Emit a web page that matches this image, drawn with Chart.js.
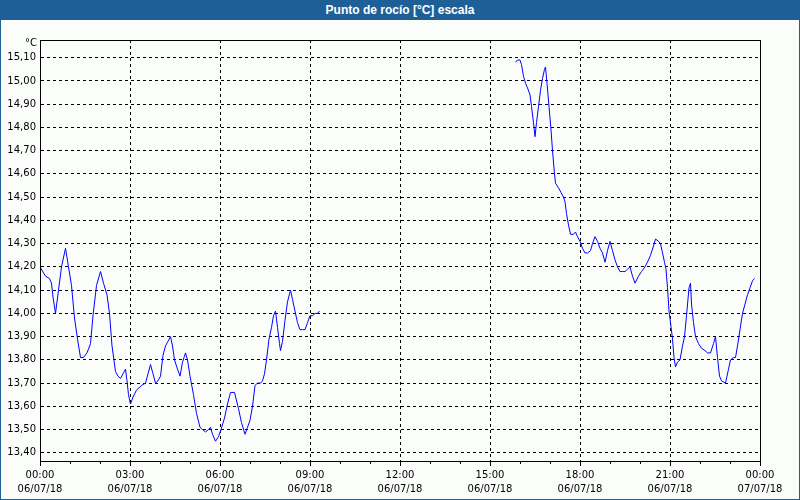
<!DOCTYPE html>
<html><head><meta charset="utf-8">
<script src="https://cdn.jsdelivr.net/npm/chart.js@4.4.1/dist/chart.umd.min.js"></script>
<style>
html,body{margin:0;padding:0;background:#fbfdfb;}
#wrap{position:relative;width:800px;height:500px;background:#fbfdfb;overflow:hidden;}
#c{position:absolute;left:0;top:0;}
#title{position:absolute;left:0;top:0;width:800px;height:20px;background:#1f5f97;color:#fff;font:bold 12px "Liberation Sans",Arial,sans-serif;text-align:center;line-height:20px;}
#unit{position:absolute;left:0;top:37px;width:37px;text-align:right;font:10px "DejaVu Sans",sans-serif;color:#000;}
#border{position:absolute;left:0;top:0;width:800px;height:500px;box-sizing:border-box;border:1px solid #1f5f97;pointer-events:none;}
</style></head>
<body>
<div id="wrap">
<canvas id="c" width="800" height="500"></canvas>
<div id="title">Punto de rocío [°C] escala</div>
<div id="unit">°C</div>
<div id="border"></div>
</div>
<script>
// Tick labels
const timeLabels = ['00:00','03:00','06:00','09:00','12:00','15:00','18:00','21:00','00:00'];
const dateLabels = ['06/07/18','06/07/18','06/07/18','06/07/18','06/07/18','06/07/18','06/07/18','06/07/18','07/07/18'];
const majorMinutes = [0,180,360,540,720,900,1080,1260,1440];
const yTicks = [13.4,13.5,13.6,13.7,13.8,13.9,14.0,14.1,14.2,14.3,14.4,14.5,14.6,14.7,14.8,14.9,15.0,15.1];

// Series: minutes since 06/07/18 00:00 and dew point (°C)
const times1 = [0,11,19,23,26,31,37,43,51,57,63,69,75,81,87,94,101,106,113,121,127,134,139,144,151,156,161,166,171,174,177,181,186,193,203,211,216,221,226,231,236,241,246,251,256,261,265,269,275,280,285,291,295,300,307,313,320,325,331,337,341,345,351,357,362,369,375,381,389,397,403,410,415,420,425,430,435,441,445,449,453,458,463,467,471,475,479,481,485,490,495,501,505,510,515,520,525,530,535,540,545,550,555,559];
const values1 = [14.20,14.16,14.15,14.13,14.07,14.00,14.10,14.20,14.28,14.20,14.12,13.98,13.89,13.81,13.81,13.83,13.87,13.99,14.12,14.18,14.13,14.08,14.00,13.86,13.75,13.73,13.72,13.74,13.76,13.71,13.65,13.61,13.64,13.67,13.69,13.70,13.74,13.78,13.74,13.70,13.71,13.73,13.82,13.86,13.88,13.90,13.86,13.80,13.76,13.73,13.79,13.83,13.80,13.73,13.65,13.57,13.51,13.50,13.49,13.50,13.51,13.48,13.45,13.47,13.50,13.55,13.61,13.66,13.66,13.59,13.53,13.48,13.51,13.54,13.60,13.69,13.70,13.70,13.71,13.74,13.80,13.89,13.94,13.99,14.01,13.94,13.87,13.84,13.88,13.97,14.05,14.10,14.06,14.01,13.96,13.93,13.93,13.93,13.96,13.99,13.99,14.00,14.00,14.01];
const times2 = [951,955,960,963,967,971,975,980,983,987,990,993,997,1001,1005,1009,1011,1014,1018,1022,1025,1029,1031,1037,1042,1047,1050,1053,1057,1061,1067,1071,1075,1080,1085,1090,1095,1101,1105,1110,1115,1120,1125,1130,1135,1140,1145,1150,1155,1160,1165,1170,1175,1180,1185,1190,1197,1203,1210,1217,1221,1227,1231,1237,1241,1245,1249,1252,1255,1258,1261,1265,1268,1271,1275,1280,1285,1289,1293,1298,1301,1303,1307,1311,1317,1323,1330,1335,1341,1347,1351,1355,1359,1363,1371,1377,1381,1387,1391,1395,1400,1405,1410,1415,1420,1425,1429];
const values2 = [15.08,15.09,15.09,15.07,15.02,14.99,14.97,14.94,14.89,14.82,14.76,14.82,14.89,14.96,15.01,15.05,15.06,14.99,14.89,14.79,14.70,14.60,14.56,14.54,14.52,14.50,14.48,14.43,14.38,14.34,14.34,14.35,14.33,14.31,14.28,14.26,14.26,14.27,14.30,14.33,14.31,14.28,14.26,14.22,14.27,14.31,14.27,14.23,14.20,14.18,14.18,14.18,14.19,14.20,14.16,14.13,14.16,14.18,14.20,14.23,14.25,14.29,14.32,14.31,14.30,14.26,14.22,14.19,14.11,14.01,13.96,13.89,13.81,13.77,13.79,13.80,13.86,13.90,13.99,14.11,14.13,14.04,13.96,13.90,13.87,13.85,13.84,13.83,13.83,13.87,13.90,13.81,13.73,13.71,13.70,13.76,13.80,13.81,13.81,13.86,13.93,14.00,14.04,14.08,14.11,14.14,14.15];

const points = times1.map((t,i)=>({x:t,y:values1[i]}))
  .concat([{x:700,y:null}])
  .concat(times2.map((t,i)=>({x:t,y:values2[i]})));

const frameAndMinor = {
  id:'frameAndMinor',
  afterDraw(chart){
    const {ctx, chartArea:a, scales:{x}} = chart;
    ctx.save();
    ctx.strokeStyle='#000'; ctx.lineWidth=1; ctx.setLineDash([]);
    ctx.strokeRect(Math.round(a.left)+0.5, Math.round(a.top)+0.5, Math.round(a.right-a.left), Math.round(a.bottom-a.top));
    ctx.beginPath();
    for(let m=60;m<1440;m+=60){
      if(m%180===0) continue;
      const px = Math.round(x.getPixelForValue(m))+0.5;
      ctx.moveTo(px, Math.round(a.bottom)); ctx.lineTo(px, Math.round(a.bottom)+3);
    }
    ctx.stroke();
    ctx.restore();
  }
};

new Chart(document.getElementById('c'), {
  type:'line',
  data:{datasets:[{data:points, borderColor:'#0000ff', borderWidth:1, pointRadius:0, tension:0, spanGaps:false, fill:false}]},
  options:{
    responsive:false, animation:false, events:[],
    layout:{padding:{top:40,right:40,left:0,bottom:0}},
    plugins:{legend:{display:false},tooltip:{enabled:false},title:{display:false}},
    scales:{
      x:{type:'linear', min:0, max:1440,
        afterBuildTicks:s=>{s.ticks=majorMinutes.map(v=>({value:v}));},
        afterFit:s=>{s.height=39;},
        grid:{color:c=>(c.tick && (c.tick.value===0||c.tick.value===1440))?'rgba(0,0,0,0)':'#000', tickColor:'#000', lineWidth:1, tickLength:5},
        border:{display:true,color:'#000',width:1,dash:[3,3]},
        ticks:{autoSkip:false,maxRotation:0,minRotation:0,padding:2,color:'#000',
          font:{family:'DejaVu Sans',size:10,lineHeight:1.45},
          callback:(v,i)=>[timeLabels[i],dateLabels[i]]}
      },
      y:{min:13.365, max:15.176,
        afterBuildTicks:s=>{s.ticks=yTicks.map(v=>({value:v}));},
        afterFit:s=>{s.width=40;},
        grid:{color:'#000',lineWidth:1,drawTicks:false,tickLength:0},
        border:{display:true,color:'#000',width:1,dash:[3,3]},
        ticks:{padding:4,color:'#000',font:{family:'DejaVu Sans',size:10},
          callback:v=>v.toFixed(2).replace('.',',')}
      }
    }
  },
  plugins:[frameAndMinor]
});
</script>
</body></html>
